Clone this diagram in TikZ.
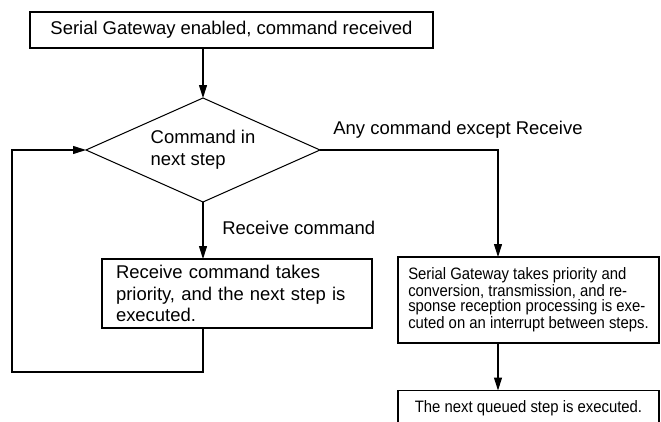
\documentclass[tikz,border=0pt]{standalone}
\usepackage{fontspec}
\setmainfont{Liberation Sans}
\newfontfamily\narrowfont[FakeStretch=0.9]{Liberation Sans}
\usepackage{tikz}
\usetikzlibrary{arrows.meta, shapes.geometric}

\begin{document}
\begin{tikzpicture}[
    line width=0.6pt,
    >={Triangle[length=0.26cm, width=0.16cm]},
    stepbox/.style={draw, rectangle, inner ysep=0pt, outer sep=0pt},
    maintext/.style={font=\fontsize{10.5}{12.2}\selectfont},
    smalltext/.style={font=\narrowfont\fontsize{9.4}{8.3}\selectfont}
]
  \useasboundingbox (0,0) rectangle (13.22,8.42);

  % Start
  \node[stepbox, maintext, minimum width=8.06cm, minimum height=0.72cm] (start) at (4.63,7.82) {Serial Gateway enabled, command received};

  % Verzweigung
  \node[draw, diamond, aspect=2.25, inner sep=0pt, outer sep=0pt, minimum width=4.68cm, minimum height=2.08cm,
        font=\fontsize{10.5}{12.5}\selectfont, align=left] (check) at (4.06,5.42) {Command in\\next step};

  % Zweig Receive
  \node[stepbox, maintext, align=left, inner xsep=0.28cm, text width=4.84cm, minimum height=1.38cm] (recv) at (4.74,2.55)
    {Receive command takes\\priority, and the next step is\\executed.};

  % Zweig andere Befehle
  \node[stepbox, smalltext, align=left, minimum width=5.22cm, minimum height=1.72cm] (gw) at (10.57,2.42)
    {Serial Gateway takes priority and\\conversion, transmission, and re-\\sponse reception processing is exe-\\cuted on an interrupt between steps.};
  \node[stepbox, smalltext, align=left, minimum width=5.22cm, minimum height=0.72cm] (queue) at (10.57,0.25)
    {The next queued step is executed.};

  % Labels
  \node[maintext, anchor=west] (anylbl) at (6.54,5.82) {Any command except Receive};
  \node[maintext, anchor=west] (recvlbl) at (4.32,3.86) {Receive command};

  % Verbindungen
  \coordinate (corner) at (0.24,0.98);
  \coordinate (branch) at (9.96,5.42);
  \draw[->] (start.south -| check.north) -- (check.north);
  \draw[->] (check.south) -- (check.south |- recv.north);
  \draw[->] (check.south |- recv.south) |- (corner) |- (check.west);
  \draw[->] (check.east) -| (branch |- gw.north);
  \draw[->] (branch |- gw.south) -- (branch |- queue.north);

\end{tikzpicture}
\end{document}
